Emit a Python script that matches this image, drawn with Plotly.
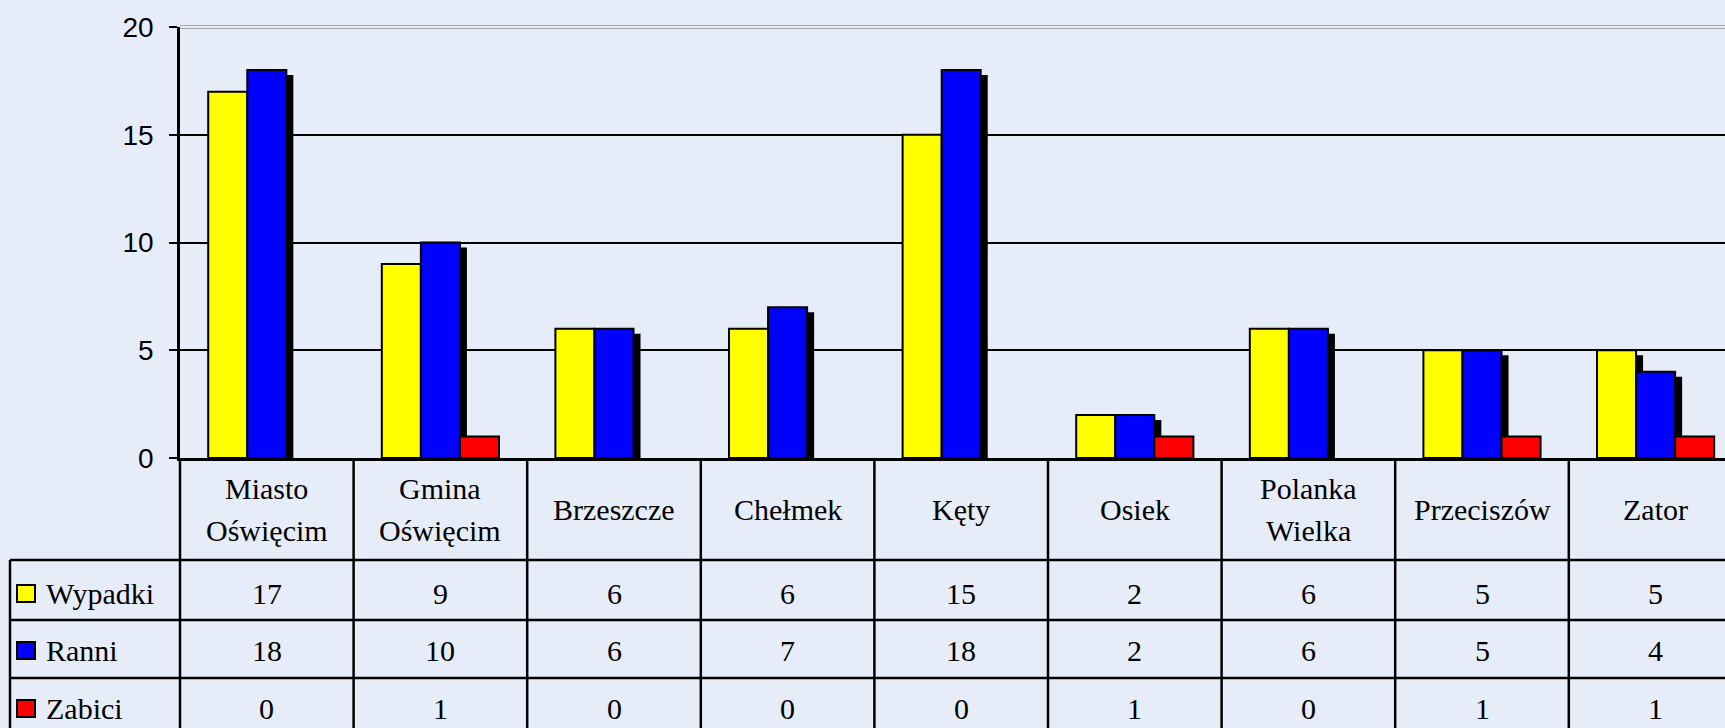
import plotly.graph_objects as go

# ---------------- data ----------------
categories = ["Miasto\nOświęcim", "Gmina\nOświęcim", "Brzeszcze", "Chełmek", "Kęty",
              "Osiek", "Polanka\nWielka", "Przeciszów", "Zator"]
series_names = ["Wypadki", "Ranni", "Zabici"]
wypadki = [17, 9, 6, 6, 15, 2, 6, 5, 5]
ranni = [18, 10, 6, 7, 18, 2, 6, 5, 4]
zabici = [0, 1, 0, 0, 0, 1, 0, 1, 1]
y_ticks = [0, 5, 10, 15, 20]
grid_vals = [5, 10, 15]

series_values = [wypadki, ranni, zabici]
colors = ["#FFFF00", "#0000FF", "#FF0000"]
has_shadow = [True, True, False]

# ---------------- layout geometry ----------------
W, H = 1725, 728
L = 180          # left edge of plot area (px)
T = 27           # top of plot area (px)
B = 458          # bottom of plot area (px)
col_px = 173.6   # width of one category column (px)
n = len(categories)
x_lo = -0.5
x_hi = x_lo + (W - L) / col_px
y_max = 20
px_per_unit = (B - T) / y_max

bar_w = 0.225
offsets = [-1.5 * bar_w, -0.5 * bar_w, 0.5 * bar_w]
shadow_dx = 7 / col_px
shadow_dy = 5 / px_per_unit

BG = "#E7EDF8"
SERIF = "Liberation Serif, Times New Roman, serif"
SANS = "Liberation Sans, Arial, sans-serif"
TXT = 30
TICK = 28
LW = 2.5


def py(p):  # pixel y -> paper y
    return (B - p) / (B - T)


def pxp(p):  # pixel x -> paper x
    return (p - L) / (W - L)


def cat_edge_px(k):
    return L + k * col_px


x_idx = list(range(n))

fig = go.Figure()
for i, (name, vals, col) in enumerate(zip(series_names, series_values, colors)):
    shown = [v if v != 0 else None for v in vals]
    if has_shadow[i]:
        fig.add_trace(go.Bar(
            x=x_idx, y=[max(v - shadow_dy, 0) if v else None for v in vals],
            width=bar_w, offset=offsets[i] + shadow_dx,
            marker=dict(color="black", line=dict(width=0)),
            showlegend=False, hoverinfo="skip"))
    fig.add_trace(go.Bar(
        x=x_idx, y=shown, name=name,
        width=bar_w, offset=offsets[i],
        marker=dict(color=col, line=dict(color="black", width=2)),
        showlegend=False))

# invisible trace for the labelled overlay axis
fig.add_trace(go.Scatter(x=[0], y=[0], yaxis="y2", mode="markers",
                         marker=dict(opacity=0), showlegend=False, hoverinfo="skip"))

shapes = []
annotations = []

# top gray border lines
for off in (-1.5, 1.5):
    shapes.append(dict(type="line", xref="paper", yref="paper",
                       x0=0, x1=1, y0=py(T + off), y1=py(T + off),
                       line=dict(color="#A8A8A8", width=1)))

row_lines = [560, 620, 678, 736]
row_centers = [593, 650, 708]
cat_mid = 509
line_gap = 42

# horizontal table lines
for yl in row_lines:
    shapes.append(dict(type="line", xref="paper", yref="paper",
                       x0=pxp(10), x1=1.02, y0=py(yl), y1=py(yl),
                       line=dict(color="black", width=LW)))
# vertical table lines
for k in range(n + 1):
    xp = pxp(cat_edge_px(k))
    shapes.append(dict(type="line", xref="paper", yref="paper",
                       x0=xp, x1=xp, y0=py(B), y1=py(row_lines[-1]),
                       line=dict(color="black", width=LW)))
shapes.append(dict(type="line", xref="paper", yref="paper",
                   x0=pxp(10), x1=pxp(10), y0=py(row_lines[0]), y1=py(row_lines[-1]),
                   line=dict(color="black", width=LW)))

# category labels
for k, cat in enumerate(categories):
    parts = cat.split("\n")
    m = len(parts)
    xc = pxp(cat_edge_px(k) + col_px / 2)
    for j, part in enumerate(parts):
        yc = cat_mid + (j - (m - 1) / 2) * line_gap
        annotations.append(dict(xref="paper", yref="paper", x=xc, y=py(yc),
                                text=part, showarrow=False, xanchor="center", yanchor="middle",
                                font=dict(family=SERIF, size=TXT, color="black")))

# value rows + legend keys
for r, (name, vals, col) in enumerate(zip(series_names, series_values, colors)):
    yc = row_centers[r]
    shapes.append(dict(type="rect", xref="paper", yref="paper",
                       x0=pxp(17), x1=pxp(35), y0=py(yc - 8), y1=py(yc + 9),
                       fillcolor=col, line=dict(color="black", width=2)))
    annotations.append(dict(xref="paper", yref="paper", x=pxp(44), y=py(yc),
                            text=name, showarrow=False, xanchor="left", yanchor="middle",
                            font=dict(family=SERIF, size=TXT, color="black")))
    for k, v in enumerate(vals):
        xc = pxp(cat_edge_px(k) + col_px / 2)
        annotations.append(dict(xref="paper", yref="paper", x=xc, y=py(yc),
                                text=str(v), showarrow=False, xanchor="center", yanchor="middle",
                                font=dict(family=SERIF, size=TXT, color="black")))

fig.update_layout(
    width=W, height=H,
    margin=dict(l=L, r=0, t=T, b=H - B, pad=0),
    paper_bgcolor=BG, plot_bgcolor=BG,
    barmode="overlay",
    showlegend=False,
    xaxis=dict(range=[x_lo, x_hi], showticklabels=False, ticks="", showgrid=False,
               zeroline=False, showline=True, linecolor="black", linewidth=LW),
    yaxis=dict(range=[0, y_max], tickvals=grid_vals, showticklabels=False, ticks="",
               showgrid=True, gridcolor="black", gridwidth=2, zeroline=False, showline=False),
    yaxis2=dict(range=[0, y_max], overlaying="y", side="left", tickvals=y_ticks,
                ticks="outside", ticklen=8, tickwidth=2, tickcolor="black",
                showline=True, linecolor="black", linewidth=LW, showgrid=False,
                zeroline=False, ticklabelstandoff=10,
                tickfont=dict(family=SANS, size=TICK, color="black")),
    shapes=shapes,
    annotations=annotations,
)

fig.write_html(
    "out.html",
    config={"displayModeBar": False},
    post_script="document.body.style.margin='0';document.body.style.overflow='hidden';"
                "document.body.style.background='" + BG + "';",
)
